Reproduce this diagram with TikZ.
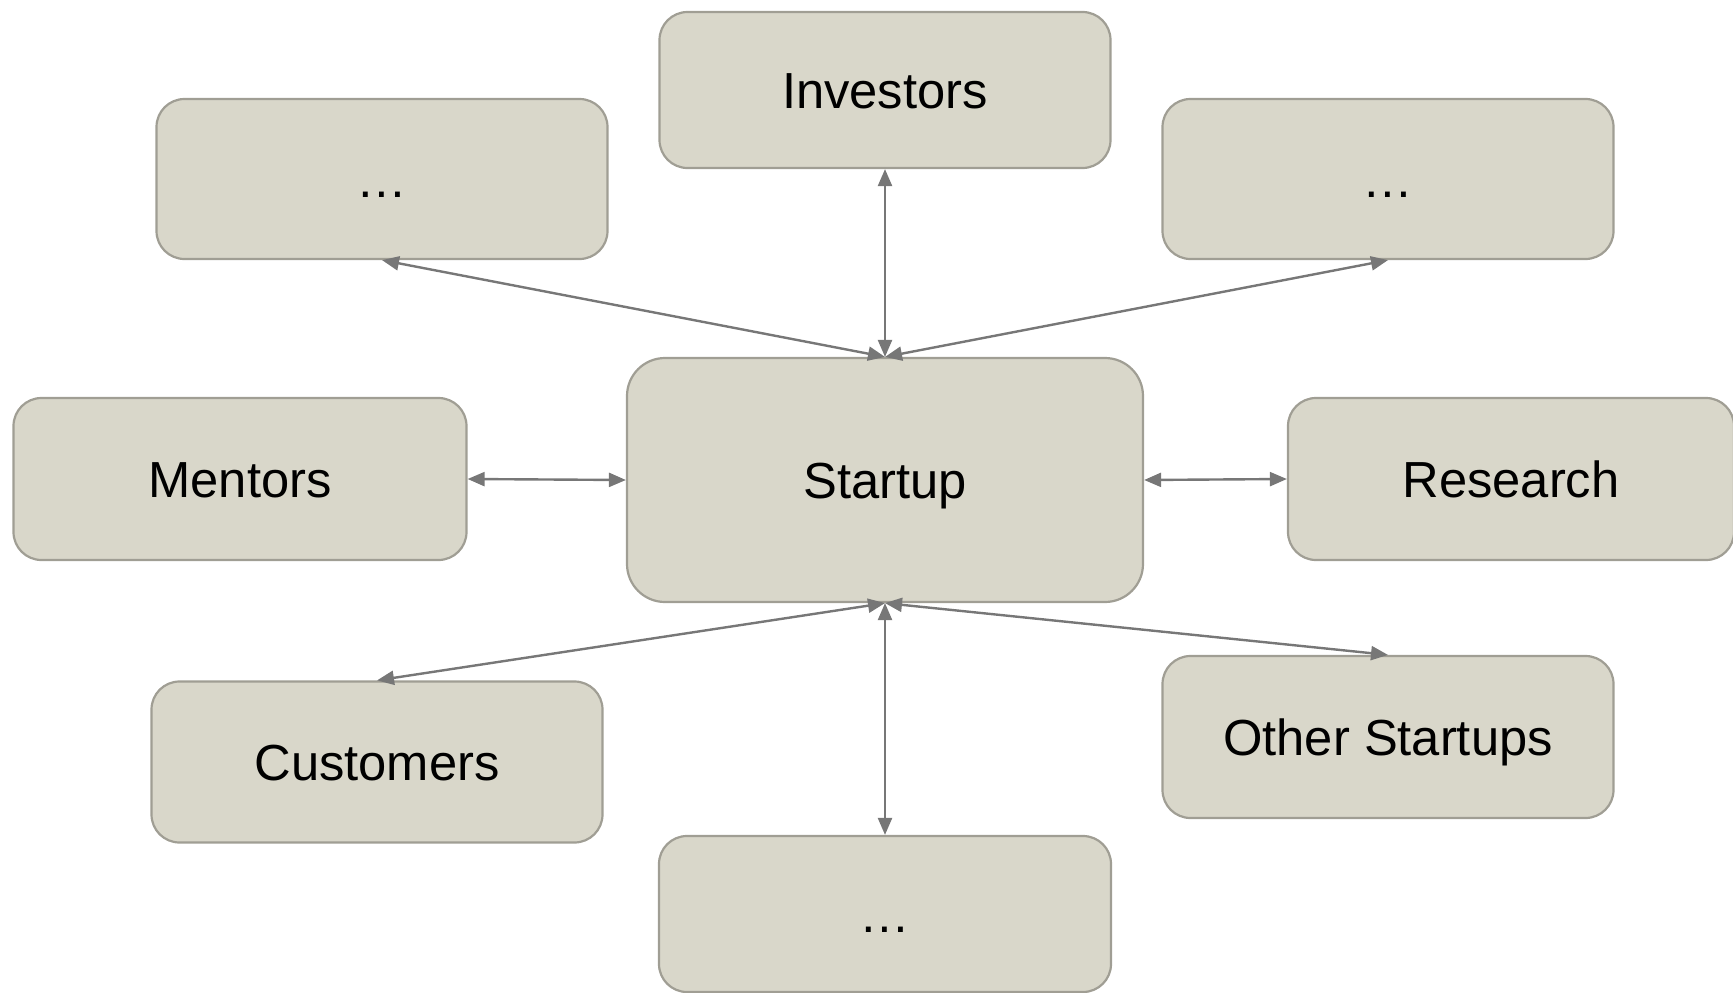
\documentclass[tikz,border=0pt]{standalone}
\usepackage{fontspec}
\setmainfont{Liberation Sans}
\usetikzlibrary{arrows.meta}
\definecolor{boxfill}{HTML}{D9D7CA}
\definecolor{boxline}{HTML}{A09E94}
\definecolor{arrowc}{HTML}{777777}
\tikzset{
  box/.style={draw=boxline, fill=boxfill, line width=2.2pt, rounded corners=28pt,
    minimum width=451pt, minimum height=160pt, inner sep=0pt,
    font=\fontsize{50.7}{60}\selectfont, text height=36pt, text depth=0pt},
  link/.style={draw=arrowc, line width=2.4pt,
    {Triangle[length=17pt,width=14pt]}-{Triangle[length=17pt,width=14pt]}}
}
\begin{document}
\begin{tikzpicture}[x=1pt,y=-1pt]
\useasboundingbox (0,0) rectangle (1733,993);
\node[box, minimum width=516pt, minimum height=244pt, rounded corners=38pt] (st) at (885,480) {Startup};
\node[box, minimum height=156pt] (inv) at (885,90) {Investors};
\node[box] (tl) at (382,179) {…};
\node[box] (tr) at (1388,179) {…};
\node[box, minimum height=162pt, minimum width=453pt] (men) at (240,479) {Mentors};
\node[box, minimum height=162pt, minimum width=446pt] (res) at (1511,479) {Research};
\node[box, minimum height=161pt] (cus) at (377,762) {Customers};
\node[box, minimum height=162pt] (oth) at (1388,737) {Other Startups};
\node[box, minimum width=452pt, minimum height=156pt] (bot) at (885,914) {…};
\draw[link] (st.north) -- (inv.south);
\draw[link] (st.north) -- (tl.south);
\draw[link] (st.north) -- (tr.south);
\draw[link] (st.west) -- (men.east);
\draw[link] (st.east) -- (res.west);
\draw[link] (st.south) -- (cus.north);
\draw[link] (st.south) -- (oth.north);
\draw[link] (st.south) -- (bot.north);
\end{tikzpicture}
\end{document}
